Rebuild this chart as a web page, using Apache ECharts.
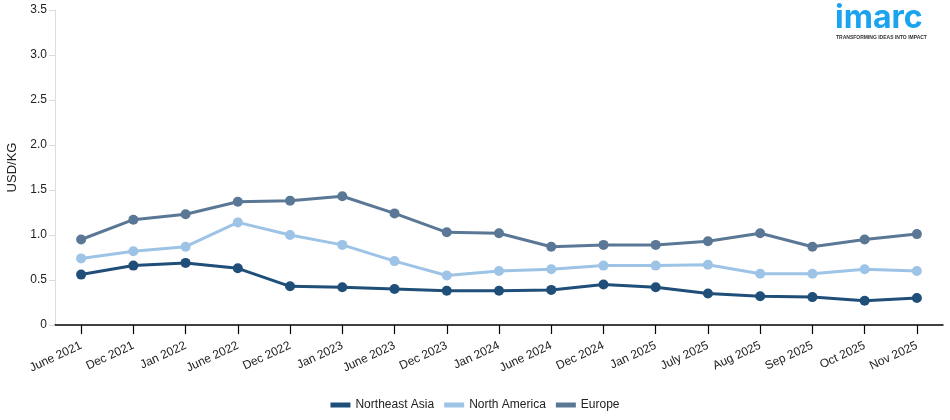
<!DOCTYPE html>
<html>
<head>
<meta charset="utf-8">
<script src="https://cdn.jsdelivr.net/npm/echarts@6/dist/echarts.min.js"></script>
<style>html,body{margin:0;padding:0;background:#fff}#c{width:950px;height:420px}</style>
</head>
<body>
<div id="c"></div>
<script>
const categories = ["June 2021","Dec 2021","Jan 2022","June 2022","Dec 2022","Jan 2023","June 2023","Dec 2023","Jan 2024","June 2024","Dec 2024","Jan 2025","July 2025","Aug 2025","Sep 2025","Oct 2025","Nov 2025"];
const northeastAsia = [0.56,0.66,0.69,0.63,0.43,0.42,0.40,0.38,0.38,0.39,0.45,0.42,0.35,0.32,0.31,0.27,0.30];
const northAmerica = [0.74,0.82,0.87,1.14,1.00,0.89,0.71,0.55,0.60,0.62,0.66,0.66,0.67,0.57,0.57,0.62,0.60];
const europe = [0.95,1.17,1.23,1.37,1.38,1.43,1.24,1.03,1.02,0.87,0.89,0.89,0.93,1.02,0.87,0.95,1.01];
const yTicks = {min:0, max:3.5, interval:0.5};

const font = "Arial, 'Liberation Sans', sans-serif";
const chart = echarts.init(document.getElementById('c'), null, {renderer:'canvas'});
function mk(name, data, color){
  return {name, type:'line', data, symbol:'circle', symbolSize:10, showSymbol:true,
    lineStyle:{width:3,color}, itemStyle:{color}, emphasis:{disabled:true}, animation:false};
}
chart.setOption({
  animation:false,
  textStyle:{fontFamily:font},
  grid:{left:55,right:7,top:10,bottom:95,containLabel:false,outerBoundsMode:'none'},
  legend:{bottom:4,left:'center',itemWidth:20,itemHeight:5,itemGap:10,icon:'rect',
    textStyle:{fontFamily:font,fontSize:12,color:'#222'},
    data:['Northeast Asia','North America','Europe']},
  xAxis:{type:'category',data:categories,boundaryGap:true,
    axisLine:{show:true,lineStyle:{color:'#000',width:1.5}},
    axisTick:{show:true,interval:0,alignWithLabel:true,length:9,lineStyle:{color:'#000',width:1.2}},
    axisLabel:{rotate:25,fontSize:12,color:'#222',fontFamily:font,margin:20,interval:0}},
  yAxis:{type:'value',min:yTicks.min,max:yTicks.max,interval:yTicks.interval,
    name:'USD/KG',nameLocation:'middle',nameGap:35,nameRotate:90,
    nameTextStyle:{fontSize:13,color:'#222',fontFamily:font},
    axisLine:{show:true,lineStyle:{color:'#ddd'}},
    axisTick:{show:true,length:6,lineStyle:{color:'#ddd'}},
    splitLine:{show:false},
    axisLabel:{fontSize:12,color:'#222',fontFamily:font,margin:8,
      formatter:v=> v===0?'0':v.toFixed(1)}},
  series:[mk('Northeast Asia',northeastAsia,'#1f4e79'),
          mk('North America',northAmerica,'#9dc3e6'),
          mk('Europe',europe,'#5a7896')],
  graphic:[
    {type:'text',left:835,top:2,style:{text:'imarc',font:"bold 32px Inter, Arial, sans-serif",fill:'#1aa3ee'}},
    {type:'text',left:836,top:35,style:{text:'TRANSFORMING IDEAS INTO IMPACT',font:"bold 5px Arial, sans-serif",fill:'#333'}}
  ]
});
</script>
</body>
</html>
